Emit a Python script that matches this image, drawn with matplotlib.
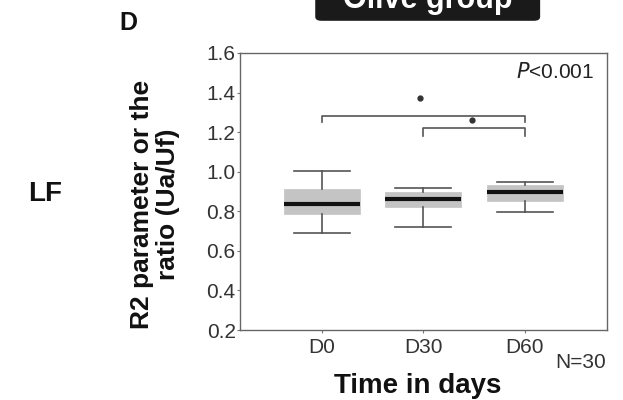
import matplotlib
matplotlib.use("Agg")
import matplotlib.pyplot as plt
from matplotlib.patches import FancyBboxPatch

plt.rcParams['font.family'] = ['Liberation Sans', 'DejaVu Sans']

categories = ["D0", "D30", "D60"]
whisker_low = [0.69, 0.72, 0.795]
q1 = [0.786, 0.82, 0.85]
medians = [0.836, 0.862, 0.90]
q3 = [0.912, 0.897, 0.932]
whisker_high = [1.003, 0.92, 0.95]
yticks = [0.2, 0.4, 0.6, 0.8, 1.0, 1.2, 1.4, 1.6]

fig = plt.figure(figsize=(6.23, 4.0), dpi=100)
ax = fig.add_axes([0.385, 0.175, 0.589, 0.6925])

stats = []
for i, c in enumerate(categories):
    stats.append(dict(label=c, whislo=whisker_low[i], q1=q1[i], med=medians[i],
                      q3=q3[i], whishi=whisker_high[i], fliers=[]))

positions = [1, 2, 3]
ax.bxp(stats, positions=positions, widths=0.75, showfliers=False, patch_artist=True,
       boxprops=dict(facecolor='#c4c4c4', edgecolor='#c4c4c4', linewidth=0.5),
       medianprops=dict(color='#111111', linewidth=3),
       whiskerprops=dict(color='#555555', linewidth=1.2),
       capprops=dict(color='#555555', linewidth=1.2),
       capwidths=0.55)

ax.set_xlim(0.19, 3.81)
ax.set_ylim(0.2, 1.6)
ax.set_yticks(yticks)
ax.set_yticklabels([f"{v:.1f}" for v in yticks], fontsize=15, color='#333333')
ax.set_xticks(positions)
ax.set_xticklabels(categories, fontsize=15, color='#333333')
ax.tick_params(axis='both', length=2, width=0.8, color='#777777', pad=1)
ax.tick_params(axis='x', pad=4)
for s in ax.spines.values():
    s.set_color('#666666')
    s.set_linewidth(1.0)

# significance brackets
def bracket(x1, x2, y, h):
    ax.plot([x1, x1, x2, x2], [y - h, y, y, y - h], color='#555555', lw=1.2)

bracket(1, 3, 1.28, 0.03)
bracket(2, 3, 1.22, 0.04)
ax.plot([1.97], [1.375], marker='o', ms=3.5, color='#333333')
ax.plot([2.48], [1.262], marker='o', ms=3.5, color='#333333')

ax.text(0.965, 0.93, r"$\it{P}$<0.001", transform=ax.transAxes, ha='right', va='center',
        fontsize=15, color='#222222')

fig.text(0.972, 0.095, "N=30", ha='right', va='center', fontsize=15, color='#333333')
fig.text(0.67, 0.035, "Time in days", ha='center', va='center', fontsize=20,
         fontweight='bold', color='#111111')

fig.text(0.249, 0.49, "R2 parameter or the\nratio (Ua/Uf)", rotation=90, ha='center',
         va='center', fontsize=19, fontweight='bold', color='#111111', linespacing=1.1,
         multialignment='center')
fig.text(0.072, 0.515, "LF", ha='center', va='center', fontsize=20, fontweight='bold',
         color='#111111')
fig.text(0.206, 0.942, "D", ha='center', va='center', fontsize=18, fontweight='bold',
         color='#111111')

# title box
box = FancyBboxPatch((0.506, 0.948), 0.361, 0.1, boxstyle="round,pad=0,rounding_size=0.01",
                     transform=fig.transFigure, facecolor='#1a1a1a', edgecolor='none')
fig.patches.append(box)
fig.text(0.686, 1.0, "Olive group", ha='center', va='center', fontsize=22,
         fontweight='bold', color='white')

fig.savefig("out.png", dpi=100)
